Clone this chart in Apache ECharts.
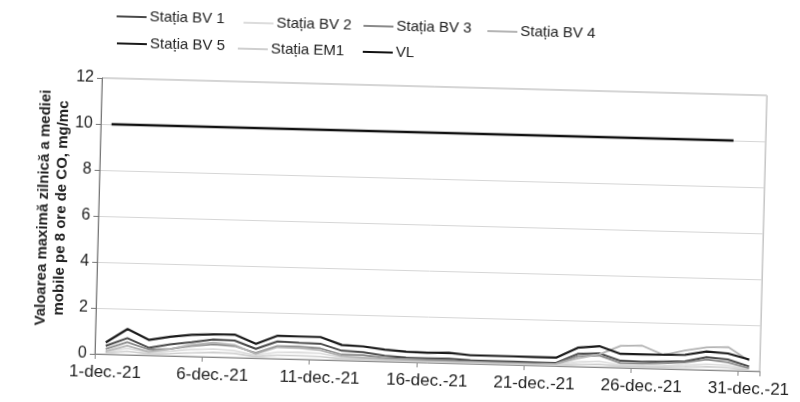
<!DOCTYPE html>
<html><head><meta charset="utf-8">
<script src="https://cdn.jsdelivr.net/npm/echarts@6/dist/echarts.min.js"></script>
<style>
html,body{margin:0;padding:0;background:#fff;overflow:hidden;width:800px;height:402px}
#c{width:800px;height:402px;transform:rotate(1.5deg);transform-origin:102px 78px;}
</style>
</head><body><div id="c"></div>
<script>
const categories = ['1-dec.-21','2-dec.-21','3-dec.-21','4-dec.-21','5-dec.-21','6-dec.-21','7-dec.-21','8-dec.-21','9-dec.-21','10-dec.-21','11-dec.-21','12-dec.-21','13-dec.-21','14-dec.-21','15-dec.-21','16-dec.-21','17-dec.-21','18-dec.-21','19-dec.-21','20-dec.-21','21-dec.-21','22-dec.-21','23-dec.-21','24-dec.-21','25-dec.-21','26-dec.-21','27-dec.-21','28-dec.-21','29-dec.-21','30-dec.-21','31-dec.-21'];
const bv1 = [0.36,0.72,0.33,0.5,0.62,0.76,0.74,0.4,0.75,0.72,0.7,0.42,0.38,0.25,0.2,0.18,0.2,0.15,0.14,0.14,0.13,0.13,0.55,0.6,0.3,0.28,0.32,0.35,0.55,0.48,0.2];
const bv2 = [0.1,0.28,0.12,0.2,0.3,0.35,0.3,0.12,0.28,0.3,0.28,0.12,0.1,0.06,0.05,0.04,0.04,0.04,0.04,0.04,0.04,0.05,0.2,0.25,0.12,0.12,0.14,0.18,0.25,0.22,0.08];
const bv3 = [0.22,0.55,0.25,0.3,0.45,0.55,0.5,0.22,0.55,0.55,0.5,0.25,0.25,0.15,0.12,0.1,0.1,0.08,0.08,0.08,0.08,0.1,0.45,0.5,0.2,0.2,0.25,0.3,0.45,0.35,0.12];
const bv4 = [0.12,0.4,0.15,0.3,0.5,0.62,0.55,0.18,0.5,0.48,0.42,0.18,0.14,0.1,0.08,0.06,0.06,0.06,0.05,0.05,0.05,0.08,0.35,0.55,0.95,0.98,0.6,0.82,0.98,1.02,0.45];
const bv5 = [0.51,1.12,0.67,0.83,0.94,0.98,1.0,0.62,1.0,0.99,0.99,0.67,0.63,0.52,0.45,0.43,0.45,0.37,0.37,0.37,0.36,0.36,0.82,0.91,0.6,0.6,0.61,0.63,0.8,0.74,0.5];
const em1 = [0.05,0.15,0.06,0.1,0.15,0.2,0.18,0.06,0.15,0.15,0.14,0.06,0.05,0.03,0.02,0.02,0.02,0.02,0.02,0.02,0.02,0.02,0.1,0.12,0.06,0.06,0.08,0.1,0.14,0.12,0.04];
const vl = [10,10,10,10,10,10,10,10,10,10,10,10,10,10,10,10,10,10,10,10,10,10,10,10,10,10,10,10,10,10,null];
const yTicks = [0,2,4,6,8,10,12];
const seriesNames = ['Stația BV 1','Stația BV 2','Stația BV 3','Stația BV 4','Stația BV 5','Stația EM1','VL'];
const yTitle = 'Valoarea maximă zilnică a mediei\nmobile pe 8 ore de CO, mg/mc';

const seriesData = [bv1, bv2, bv3, bv4, bv5, em1, vl];
const colors = ['#4a4a4a','#dcdcdc','#8a8a8a','#b4b4b4','#1a1a1a','#cfcfcf','#111111'];
const widths = [2, 1.6, 1.8, 1.8, 2.2, 1.6, 2.4];
const legendPos = [[115,16],[242,19],[362,19],[486,21],[116,43],[237,45],[362,45]];
const FONT = "'Liberation Sans', Arial, sans-serif";

const chart = echarts.init(document.getElementById('c'), null, {renderer:'canvas'});
chart.setOption({
  backgroundColor: '#fff',
  animation: false,
  color: colors,
  grid: {left:102, top:78, width:668, height:276, show:true, borderColor:'#a8a8a8', borderWidth:1, containLabel:false},
  legend: seriesNames.map((n,i)=>({
    data:[n], left:legendPos[i][0], top:legendPos[i][1]-8, padding:0,
    icon:'rect', itemWidth:30, itemHeight:2,
    textStyle:{fontFamily:FONT, fontSize:15, color:'#222', lineHeight:16, padding:[0,0,0,-2]}
  })),
  xAxis: {
    type:'category', data:categories, boundaryGap:true,
    axisLine:{lineStyle:{color:'#888', width:1}},
    axisTick:{show:true, interval:4, length:5, lineStyle:{color:'#888'}},
    axisLabel:{interval:4, margin:10, fontFamily:FONT, fontSize:17, color:'#222'},
    splitLine:{show:false}
  },
  yAxis: {
    type:'value', min:yTicks[0], max:yTicks[yTicks.length-1], interval:yTicks[1]-yTicks[0],
    axisLine:{show:true, lineStyle:{color:'#777', width:1}},
    axisTick:{show:true, length:5, lineStyle:{color:'#777'}},
    axisLabel:{margin:8, fontFamily:FONT, fontSize:16, color:'#222'},
    splitLine:{show:true, lineStyle:{color:'#d6d6d6', width:1}}
  },
  graphic: [{
    type:'text', x:56, y:209, rotation:Math.PI/2,
    style:{text:yTitle, fontFamily:FONT, fontSize:15, fontWeight:'bold', fill:'#222', align:'center', verticalAlign:'middle', lineHeight:18}
  }],
  series: seriesNames.map((n,i)=>({
    name:n, type:'line', data:seriesData[i], symbol:'none', connectNulls:false,
    lineStyle:{color:colors[i], width:widths[i]}, itemStyle:{color:colors[i]},
    z: i===6 ? 5 : (i===4 ? 4 : 2)
  }))
});
</script>
</body></html>
